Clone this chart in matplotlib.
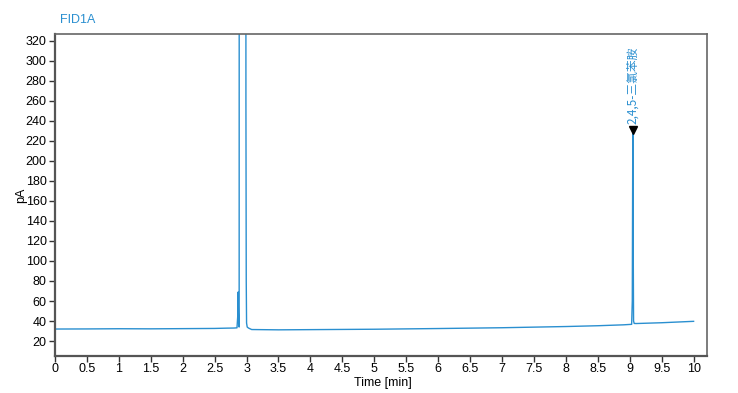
import matplotlib
matplotlib.use('Agg')
import matplotlib.pyplot as plt
import numpy as np

# chromatogram points (time in min, signal in pA)
time_min = [0.0, 0.5, 1.0, 1.5, 2.0, 2.5, 2.7, 2.8, 2.85, 2.862, 2.868, 2.872,
            2.878, 2.884, 2.888, 2.986, 2.99, 2.995, 3.0, 3.01, 3.03, 3.08,
            3.5, 4.0, 5.0, 6.0, 7.0, 8.0, 8.5, 8.9, 9.03, 9.04, 9.048, 9.052,
            9.06, 9.07, 9.1, 9.5, 10.0]
signal_pa = [32.0, 32.1, 32.3, 32.2, 32.4, 32.6, 32.9, 33.0, 33.2, 45.0, 69.0,
             48.0, 35.0, 34.0, 2000.0, 2000.0, 260.0, 80.0, 38.0, 34.0, 33.0, 31.5,
             31.2, 31.4, 31.8, 32.5, 33.3, 34.5, 35.3, 36.2, 36.7, 60.0, 230.0, 150.0,
             40.0, 37.6, 37.5, 38.3, 39.7]

peak_time = 9.05
peak_height = 231
peak_name = '2,4,5-三氯苯胺'

x_ticks = np.arange(0, 10.01, 0.5)
x_labels = ['0', '0.5', '1', '1.5', '2', '2.5', '3', '3.5', '4', '4.5', '5',
            '5.5', '6', '6.5', '7', '7.5', '8', '8.5', '9', '9.5', '10']
y_ticks = list(range(20, 321, 20))

blue = '#2a8fd0'
plt.rcParams['font.family'] = ['Liberation Sans', 'DejaVu Sans']

fig = plt.figure(figsize=(7.38, 3.93), dpi=100)
ax = fig.add_axes([0.0745, 0.094, 0.8835, 0.82])

ax.plot(time_min, signal_pa, color=blue, lw=1.0)

# peak marker + label
ax.plot([peak_time], [peak_height], marker='v', color='black', ms=6, ls='none')
ax.text(peak_time, peak_height + 6, peak_name, rotation=90, ha='center', va='bottom',
        color=blue, fontsize=8.5, family=['Noto Sans CJK SC', 'DejaVu Sans'])

ax.set_xlim(0, 10.21)
ax.set_ylim(5, 327)
ax.set_xticks(x_ticks)
ax.set_xticklabels(x_labels)
ax.set_yticks(y_ticks)
ax.tick_params(axis='both', labelsize=9, length=4, width=1, color='#333333', pad=2)
ax.tick_params(axis='x', pad=1)

for side in ['left', 'bottom']:
    ax.spines[side].set_color('#555555')
    ax.spines[side].set_linewidth(1.6)
for side in ['top', 'right']:
    ax.spines[side].set_color('#666666')
    ax.spines[side].set_linewidth(1.2)

ax.set_xlabel('Time [min]', fontsize=9)
ax.set_ylabel('pA', fontsize=9)
ax.xaxis.set_label_coords(0.503, -0.064)
ax.yaxis.set_label_coords(-0.043, 0.5)
ax.text(0.008, 1.043, 'FID1A', transform=ax.transAxes, color=blue, fontsize=9,
        ha='left', va='center')

fig.savefig('out.png', dpi=100)
